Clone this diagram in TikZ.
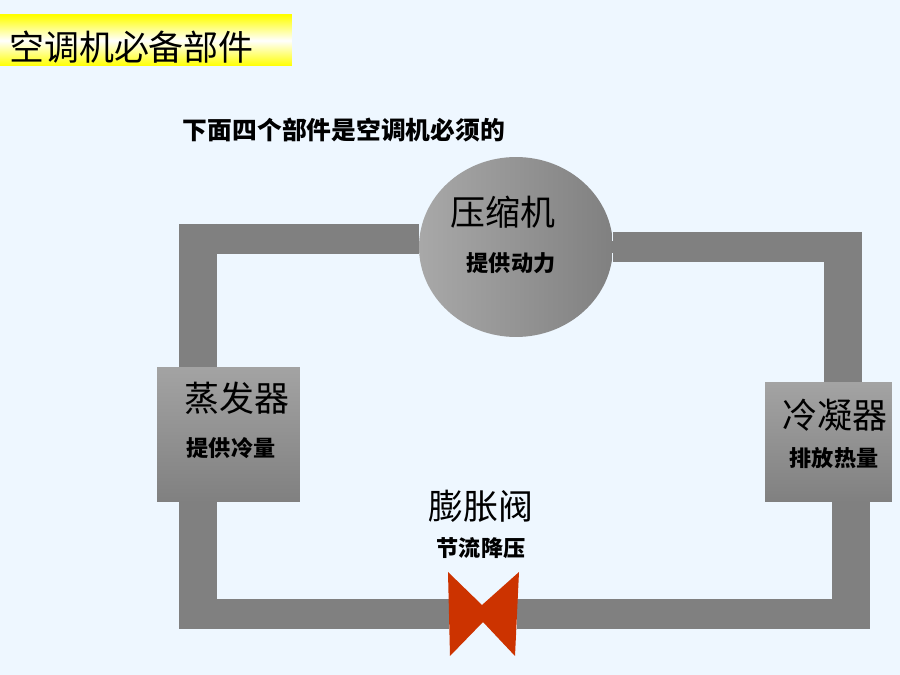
\documentclass[tikz,border=0pt]{standalone}
\usepackage{fontspec}
\setmainfont{Noto Sans CJK SC}
\usetikzlibrary{calc}
\usetikzlibrary{positioning}
\usetikzlibrary{shapes.geometric}
\definecolor{paper}{HTML}{EEF7FF}
\definecolor{pipegray}{HTML}{808080}
\definecolor{valvered}{HTML}{CC3300}
\tikzstyle{hpipe}=[%
  draw=pipegray,
  line width=0.6cm
]
\tikzstyle{vpipe}=[%
  draw=pipegray,
  line width=0.76cm
]
\tikzstyle{unitbox}=[%
  rectangle,
  inner sep=0pt,
  top color=black!36,
  bottom color=pipegray
]
\tikzstyle{bigtext}=[%
  inner sep=0pt,
  font=\fontsize{19.9pt}{24pt}\selectfont
]
\tikzstyle{smalltext}=[%
  inner sep=0pt,
  font=\bfseries\fontsize{12.6pt}{15pt}\selectfont
]
\begin{document}
\begin{tikzpicture}[x=0.02cm, y=-0.02cm]
    \fill[paper] (0, 0) rectangle (900, 675);

    \node[ellipse, inner sep=0pt, minimum width=3.88cm, minimum height=3.6cm,
      left color=black!34, right color=pipegray] (comp) at (516, 247) {};
    \node[unitbox, minimum width=2.86cm, minimum height=2.7cm] (evap) at (228.5, 434.5) {};
    \node[unitbox, minimum width=2.54cm, minimum height=2.4cm] (cond) at (828.5, 442) {};
    \node[inner sep=0pt, minimum width=1.34cm] (valve) at (483, 614) {};
    \coordinate (tl) at (198, 224);
    \coordinate (tlh) at (179, 239);
    \coordinate (tr) at (843, 232);
    \coordinate (trh) at (862, 247);
    \coordinate (bl) at (198, 629);
    \coordinate (blh) at (179, 614);
    \coordinate (br) at (850.5, 629);
    \coordinate (brh) at (869, 614);

    \draw[hpipe] (tlh) -- (comp.west |- tlh);
    \draw[vpipe] (tl) -- (evap.north -| tl);
    \draw[hpipe] (comp.east |- trh) -- (trh);
    \draw[vpipe] (tr) -- (cond.north -| tr);
    \draw[vpipe] (evap.south -| bl) -- (bl);
    \draw[hpipe] (blh) -- (valve.west);
    \draw[hpipe] (valve.east) -- (brh);
    \draw[vpipe] (cond.south -| br) -- (br);

    \fill[valvered] (448, 572) -- (482, 605) -- (519, 572) -- (515, 656)
      -- (483, 622) -- (450, 656) -- cycle;

    \node[inner sep=0pt, minimum width=5.84cm, minimum height=1.02cm,
      top color=yellow, bottom color=yellow, middle color=white] (band) at (146, 40.5) {};
    \node[bigtext] (title) at (131.5, 47) {空调机必备部件};
    \node[inner sep=0pt, font=\bfseries\fontsize{14.1pt}{17pt}\selectfont] (intro) at (344, 130) {下面四个部件是空调机必须的};

    \node[bigtext] (compname) at (503, 212) {压缩机};
    \node[smalltext] (compnote) at (511, 263) {提供动力};
    \node[bigtext] (evapname) at (237, 398) {蒸发器};
    \node[smalltext] (evapnote) at (231, 448) {提供冷量};
    \node[bigtext] (valvename) at (481, 506) {膨胀阀};
    \node[smalltext] (valvenote) at (481, 548) {节流降压};
    \node[bigtext] (condname) at (835, 415) {冷凝器};
    \node[smalltext] (condnote) at (834, 458) {排放热量};
\end{tikzpicture}
\end{document}
